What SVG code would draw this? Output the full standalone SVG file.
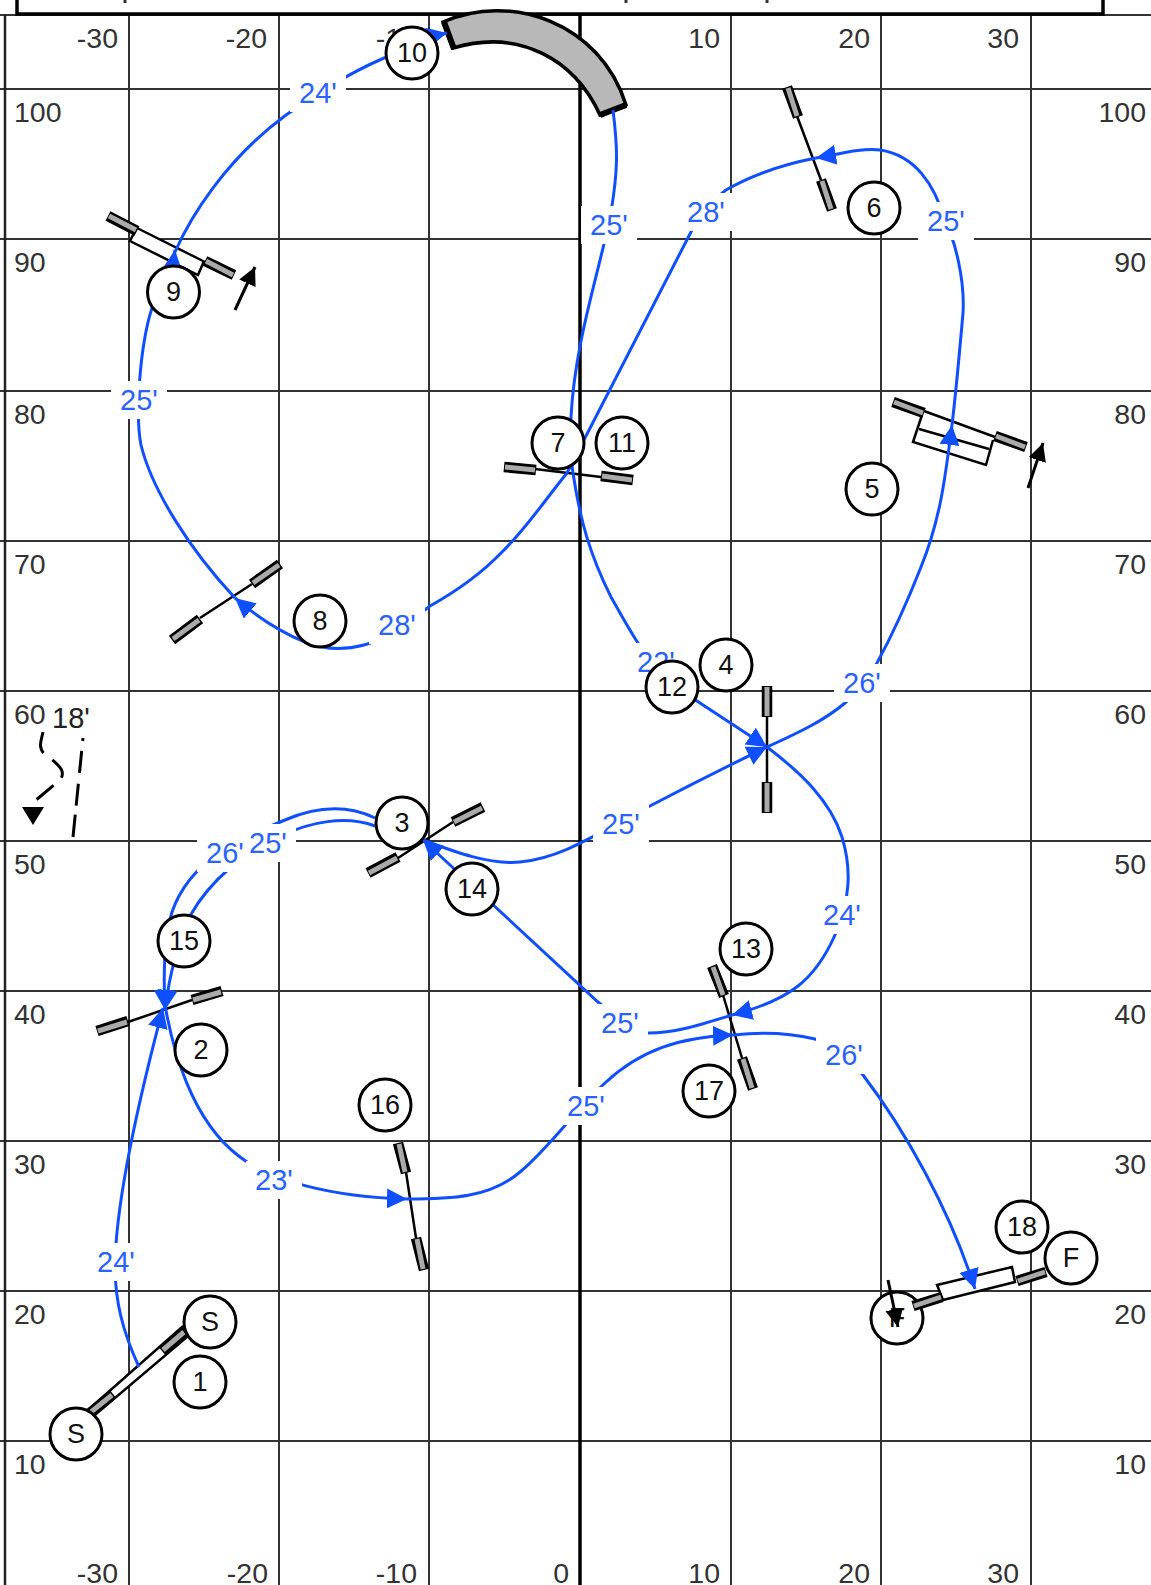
<svg xmlns="http://www.w3.org/2000/svg" width="1151" height="1585" viewBox="0 0 1151 1585">
<style>
text{font-family:"Liberation Sans",Arial,sans-serif}
.g{stroke:#333;stroke-width:2;fill:none}
.ax{font-size:28.500px;fill:#333}
.e{text-anchor:end}
.b{stroke:#000;stroke-width:2.5;fill:none}
.body{stroke:#000;stroke-width:2.5;fill:#fff}
.wo{stroke:#000;stroke-width:10.500}
.wi{stroke:#aaa;stroke-width:5}
.c{fill:none;stroke:#0f4fff;stroke-width:3}
.a{marker-end:url(#ah)}
.lb{fill:#fff}
.lt{font-size:29px;fill:#2a62ff;text-anchor:middle}
.n circle,circle.n{fill:#fff;stroke:#000;stroke-width:3}
.nt{font-size:27px;fill:#111;text-anchor:middle}
.k{stroke:#000;stroke-width:3;fill:none}
</style>
<defs>
<marker id="ah" markerUnits="userSpaceOnUse" markerWidth="20" markerHeight="20" refX="20" refY="10" orient="auto"><path d="M0,0L20,10L0,20Z" fill="#0f4fff"/></marker>
<marker id="bh" markerUnits="userSpaceOnUse" markerWidth="20" markerHeight="20" refX="18" refY="10" orient="auto"><path d="M0,1L18,10L0,19Z" fill="#000"/></marker>
</defs>
<rect width="1151" height="1585" fill="#fff"/>
<g id="grid">
<path class="g" d="M129,15V1585M279,15V1585M429,15V1585M731,15V1585M881,15V1585M1031,15V1585M0,89H1151M0,239H1151M0,391H1151M0,541H1151M0,691H1151M0,841H1151M0,991H1151M0,1141H1151M0,1291H1151M0,1441H1151M0,15H1151"/>
<path d="M580,15V1585" stroke="#000" stroke-width="3.500"/>
<path d="M5,15V1585" stroke="#222" stroke-width="2.500"/>
<path d="M17,0V14H1103V0" stroke="#000" stroke-width="3.500" fill="none"/>
<path d="M125,0V3M626,0V3M767,0V3" stroke="#334" stroke-width="3"/>
<text class="ax e" x="118" y="48">-30</text><text class="ax e" x="267" y="48">-20</text><text class="ax e" x="417" y="48">-10</text><text class="ax e" x="720" y="48">10</text><text class="ax e" x="870" y="48">20</text><text class="ax e" x="1019" y="48">30</text>
<text class="ax e" x="118" y="1583">-30</text><text class="ax e" x="268" y="1583">-20</text><text class="ax e" x="417" y="1583">-10</text><text class="ax e" x="569" y="1583">0</text><text class="ax e" x="720" y="1583">10</text><text class="ax e" x="870" y="1583">20</text><text class="ax e" x="1019" y="1583">30</text>
<text class="ax" x="14" y="122">100</text><text class="ax" x="14" y="272">90</text><text class="ax" x="14" y="424">80</text><text class="ax" x="14" y="574">70</text><text class="ax" x="14" y="724">60</text><text class="ax" x="14" y="874">50</text><text class="ax" x="14" y="1024">40</text><text class="ax" x="14" y="1174">30</text><text class="ax" x="14" y="1324">20</text><text class="ax" x="14" y="1474">10</text>
<text class="ax e" x="1146" y="122">100</text><text class="ax e" x="1146" y="272">90</text><text class="ax e" x="1146" y="424">80</text><text class="ax e" x="1146" y="574">70</text><text class="ax e" x="1146" y="724">60</text><text class="ax e" x="1146" y="874">50</text><text class="ax e" x="1146" y="1024">40</text><text class="ax e" x="1146" y="1174">30</text><text class="ax e" x="1146" y="1324">20</text><text class="ax e" x="1146" y="1474">10</text>
</g>
<g id="obstacles">
<g id="jump-start"><path class="body" d="M88,1410L182,1327L187,1337L95,1415Z"/><path class="wo" d="M90,1413L113,1394M162,1351L185,1331"/><path class="wi" d="M91,1412L112,1395M163,1350L184,1332"/></g>
<g id="jump-2"><path class="b" d="M128,1022L192,1000"/><path class="wo" d="M97,1031L128,1021M192,1000L222,991"/><path class="wi" d="M98,1031L127,1022M193,1000L221,992"/></g>
<g id="jump-3"><path class="b" d="M398,858L453,822"/><path class="wo" d="M368,873L398,857M453,822L483,807"/><path class="wi" d="M369,873L397,858M454,822L482,808"/></g>
<g id="jump-4"><path class="b" d="M767,716V782"/><path class="wo" d="M767,686V717M767,782V813"/><path class="wi" d="M767,687V716M767,783V812"/></g>
<g id="jump-5"><path class="body" d="M922,415L913,442L986,465L993,440"/><path class="b" d="M924,411L995,437M919,429L989,449"/><path class="wo" d="M893,402L924,413M995,436L1026,447"/><path class="wi" d="M894,402L923,413M996,436L1025,447"/></g>
<g id="jump-6"><path class="b" d="M797,116L821,180"/><path class="wo" d="M787,87L798,117M821,180L832,210"/><path class="wi" d="M788,88L797,116M822,181L831,209"/></g>
<g id="jump-7"><path class="b" d="M535,469L601,477"/><path class="wo" d="M504,467L536,470M601,476L633,480"/><path class="wi" d="M505,467L535,470M602,476L632,480"/></g>
<g id="jump-8"><path class="b" d="M200,618L252,584"/><path class="wo" d="M172,640L200,619M252,584L280,564"/><path class="wi" d="M173,639L199,620M253,583L279,565"/></g>
<g id="jump-9"><path class="body" d="M136,229L130,241L198,275L204,261"/><path class="b" d="M137,228L205,262"/><path class="wo" d="M108,216L137,231M205,261L234,275"/><path class="wi" d="M109,216L136,230M206,261L233,275"/></g>
<g id="tunnel-10"><path d="M443,22C510,-8 600,22 626,105L600,115C575,60 520,28 453,48Z" fill="#b8b8b8" stroke="#000" stroke-width="3.500"/><path d="M444,22L454,49M600,115L626,105" stroke="#000" stroke-width="6"/></g>
<g id="jump-13"><path class="b" d="M723,995L742,1058"/><path class="wo" d="M712,966L724,996M742,1058L753,1089"/><path class="wi" d="M713,967L723,995M743,1059L752,1088"/></g>
<g id="jump-16"><path class="b" d="M406,1172L416,1238"/><path class="wo" d="M398,1143L406,1173M416,1238L424,1270"/><path class="wi" d="M399,1144L405,1172M417,1239L423,1269"/></g>
<g id="jump-finish"><path class="body" d="M937,1285L1012,1267L1015,1282L943,1300Z"/><path class="wo" d="M1017,1281L1046,1272"/><path class="wi" d="M1018,1281L1045,1272"/></g>
<path id="arrow-9" class="k" style="marker-end:url(#bh)" d="M235,310L255,267"/>
<path id="arrow-5" class="k" style="marker-end:url(#bh)" d="M1028,488L1043,443"/>
<g id="serpentine"><path d="M43,732C41,742 36,750 50,758C60,766 66,772 60,780L36,800" fill="none" stroke="#000" stroke-width="3" stroke-dasharray="22 11"/><path d="M22,807H44L33,825Z" fill="#000"/><path d="M83,738L73,837" fill="none" stroke="#000" stroke-width="3" stroke-dasharray="3 10 22 11 22 9 24"/><text x="71" y="728" font-size="29" fill="#222" text-anchor="middle">18'</text></g>
</g>
<g id="connectors">
<path class="c a" d="M139,1367C122,1330 115,1300 115,1265C116,1200 140,1095 163,1008"/>
<path class="c a" d="M375,818C350,806 320,805 285,820C240,838 190,860 172,912C165,935 163,970 165,1010"/>
<path class="c a" d="M375,826C345,815 310,822 280,836C245,852 210,880 190,916C178,945 170,970 165,1010"/>
<path class="c a" d="M165,1005C172,1045 190,1120 240,1157C270,1180 330,1197 407,1199"/>
<path class="c a" d="M407,1199C450,1199 490,1198 520,1172C550,1147 575,1110 605,1083C640,1050 680,1037 733,1035"/>
<path class="c a" d="M733,1035C760,1032 790,1033 815,1039C835,1045 850,1058 863,1075C905,1130 950,1210 975,1289"/>
<path class="c" d="M613,110C618,150 618,170 611,212C600,270 575,340 571,417C570,440 570,455 573,473"/>
<path class="c a" d="M573,473C580,520 590,555 611,597C625,622 640,650 665,680L767,747"/>
<path class="c a" d="M767,747C800,772 830,800 842,837C852,870 850,900 835,935C815,980 790,1000 732,1015"/>
<path class="c a" d="M732,1015C700,1025 675,1033 648,1033C630,1033 610,1012 598,1002L423,840"/>
<path class="c a" d="M423,840C455,852 490,865 520,862C560,858 590,838 648,807C690,785 730,765 767,747"/>
<path class="c a" d="M767,747C800,732 825,720 845,703C860,690 870,675 877,663C895,630 910,595 921,567C940,520 945,480 952,425"/>
<path class="c a" d="M952,425C955,400 958,370 963,313C965,280 955,240 945,221C935,185 915,155 880,150C860,148 840,154 816,158"/>
<path class="c a" d="M816,158C780,165 752,175 726,190C712,200 700,215 692,230L586,436L567,473C545,500 525,530 502,552C480,575 455,592 430,606C405,625 385,640 364,645C345,650 325,650 305,642C280,632 255,615 235,598"/>
<path class="c a" d="M235,598C190,550 152,490 141,445C135,415 140,345 152,308C158,285 172,272 175,250"/>
<path class="c a" d="M175,252C190,218 225,160 286,115C315,95 345,75 384,58C405,48 425,38 447,33"/>
</g>
<g id="labels">
<path class="lb" d="M290,74h56v38h-56zM581,206h56v38h-56zM678,193h56v38h-56zM918,202h56v38h-56zM111,381h56v38h-56zM369,606h56v38h-56zM628,643h56v38h-56zM834,664h56v38h-56zM593,805h56v38h-56zM197,834h56v38h-56zM240,824h56v38h-56zM814,896h56v38h-56zM592,1004h56v38h-56zM558,1087h56v38h-56zM816,1036h56v38h-56zM246,1161h56v38h-56zM88,1243h56v38h-56z"/>
<text class="lt" x="318" y="103">24'</text><text class="lt" x="609" y="235">25'</text><text class="lt" x="706" y="222">28'</text><text class="lt" x="946" y="231">25'</text><text class="lt" x="139" y="410">25'</text><text class="lt" x="397" y="635">28'</text><text class="lt" x="656" y="672">22'</text><text class="lt" x="862" y="693">26'</text><text class="lt" x="621" y="834">25'</text><text class="lt" x="225" y="863">26'</text><text class="lt" x="268" y="853">25'</text><text class="lt" x="842" y="925">24'</text><text class="lt" x="620" y="1033">25'</text><text class="lt" x="586" y="1116">25'</text><text class="lt" x="844" y="1065">26'</text><text class="lt" x="274" y="1190">23'</text><text class="lt" x="116" y="1272">24'</text>
</g>
<g id="nodes">
<g id="n10" class="n"><circle cx="412" cy="53" r="26"/><text class="nt" x="412" y="62">10</text></g>
<g id="n9" class="n"><circle cx="173.500" cy="292" r="26"/><text class="nt" x="173.500" y="301">9</text></g>
<g id="n6" class="n"><circle cx="874" cy="208" r="26"/><text class="nt" x="874" y="217">6</text></g>
<g id="n7" class="n"><circle cx="558" cy="443" r="26"/><text class="nt" x="558" y="452">7</text></g>
<g id="n11" class="n"><circle cx="622" cy="443" r="26"/><text class="nt" x="622" y="452">11</text></g>
<g id="n5" class="n"><circle cx="872" cy="489" r="26"/><text class="nt" x="872" y="498">5</text></g>
<g id="n8" class="n"><circle cx="320" cy="621" r="26"/><text class="nt" x="320" y="630">8</text></g>
<g id="n4" class="n"><circle cx="726" cy="665" r="26"/><text class="nt" x="726" y="674">4</text></g>
<g id="n12" class="n"><circle cx="672" cy="687" r="26"/><text class="nt" x="672" y="696">12</text></g>
<g id="n3" class="n"><circle cx="402" cy="823" r="26"/><text class="nt" x="402" y="832">3</text></g>
<g id="n14" class="n"><circle cx="472" cy="889" r="26"/><text class="nt" x="472" y="898">14</text></g>
<g id="n15" class="n"><circle cx="184" cy="941" r="26"/><text class="nt" x="184" y="950">15</text></g>
<g id="n13" class="n"><circle cx="746" cy="949" r="26"/><text class="nt" x="746" y="958">13</text></g>
<g id="n2" class="n"><circle cx="201" cy="1050" r="26"/><text class="nt" x="201" y="1059">2</text></g>
<g id="n17" class="n"><circle cx="709" cy="1091" r="26"/><text class="nt" x="709" y="1100">17</text></g>
<g id="n16" class="n"><circle cx="385" cy="1105" r="26"/><text class="nt" x="385" y="1114">16</text></g>
<g id="n18" class="n"><circle cx="1022" cy="1227" r="26"/><text class="nt" x="1022" y="1236">18</text></g>
<g id="nF1" class="n"><circle cx="1071" cy="1258" r="26"/><text class="nt" x="1071" y="1267">F</text></g>
<g id="nF2" class="n"><circle cx="897" cy="1318" r="26"/><text class="nt" x="897" y="1327">F</text></g>
<g id="nS1" class="n"><circle cx="210" cy="1322" r="26"/><text class="nt" x="210" y="1331">S</text></g>
<g id="n1" class="n"><circle cx="200" cy="1382" r="26"/><text class="nt" x="200" y="1391">1</text></g>
<g id="nS2" class="n"><circle cx="76" cy="1434" r="26"/><text class="nt" x="76" y="1443">S</text></g>
</g>
<g id="jump-finish-wing"><path class="wo" d="M913,1306L942,1297"/><path class="wi" d="M914,1306L941,1297"/></g>
<path id="arrow-finish" class="k" style="marker-end:url(#bh)" d="M888,1280L898,1327"/>
</svg>
